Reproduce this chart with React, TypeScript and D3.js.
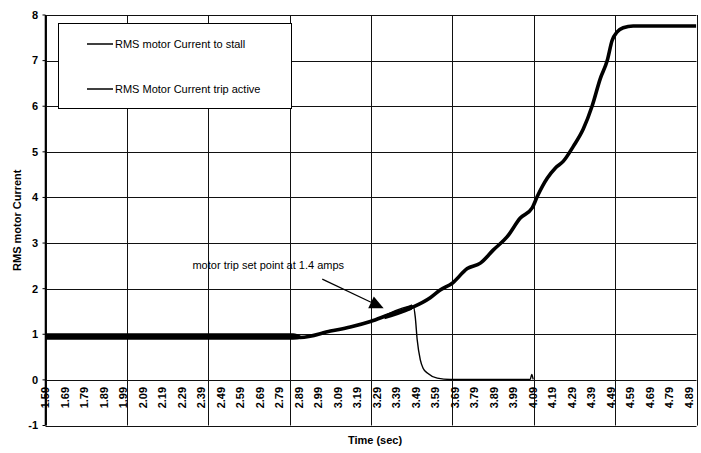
import React from 'react'
import * as d3 from 'd3'

// time (sec) and RMS current
const stallTime = [1.59, 2.3, 2.795, 2.898, 3.052, 3.154, 3.257, 3.359, 3.477, 3.564, 3.615, 3.677, 3.754, 3.821, 3.888, 3.959, 4.026, 4.087, 4.113, 4.164, 4.205, 4.246, 4.298, 4.349, 4.395, 4.436, 4.472, 4.497, 4.523, 4.554, 4.605, 4.7, 4.8, 4.928]
const stallCurrent = [0.95, 0.95, 0.95, 0.93, 1.07, 1.16, 1.28, 1.44, 1.6, 1.8, 1.97, 2.12, 2.44, 2.56, 2.85, 3.14, 3.55, 3.77, 4.02, 4.42, 4.64, 4.79, 5.12, 5.5, 6.01, 6.6, 7.0, 7.44, 7.63, 7.72, 7.76, 7.76, 7.76, 7.76]

const tripTime = [1.59, 2.795, 2.898, 3.052, 3.257, 3.477, 3.487, 3.497, 3.513, 3.528, 3.549, 3.6, 3.667, 4.077, 4.085, 4.092]
const tripCurrent = [0.95, 0.95, 0.93, 1.07, 1.28, 1.62, 1.38, 0.88, 0.44, 0.25, 0.15, 0.04, 0.01, 0.01, 0.12, 0.01]

// ripple envelopes where the trace gets thick
const rippleTime = [1.59, 2.86, 2.9]
const rippleLow = [0.88, 0.88, 0.9]
const rippleHigh = [1.02, 1.02, 0.97]
const ripple2Time = [3.33, 3.4, 3.47]
const ripple2Low = [1.33, 1.42, 1.54]
const ripple2High = [1.39, 1.52, 1.66]

const xLabels = ['1.59', '1.69', '1.79', '1.89', '1.99', '2.09', '2.19', '2.29', '2.39', '2.49', '2.59', '2.69', '2.79', '2.89', '2.99', '3.09', '3.19', '3.29', '3.39', '3.49', '3.59', '3.69', '3.79', '3.89', '3.99', '4.09', '4.19', '4.29', '4.39', '4.49', '4.59', '4.69', '4.79', '4.89']
const gridTimes = [1.59, 2.0075, 2.425, 2.8425, 3.26, 3.6775, 4.095, 4.5125, 4.93]
const yTicks = [-1, 0, 1, 2, 3, 4, 5, 6, 7, 8]

const legendNames = ['RMS motor Current to stall', 'RMS Motor Current trip active']

const font = 'Arial, "Liberation Sans", Helvetica, sans-serif'

export default function App() {
  const width = 701
  const height = 453
  const left = 45.5
  const right = 696.5
  const top = 15
  const bottom = 425.5

  const x = d3.scaleLinear().domain([1.59, 4.93]).range([left, right])
  const y = d3.scaleLinear().domain([-1, 8]).range([bottom, top])

  const line = d3.line<[number, number]>()
    .x(d => x(d[0]))
    .y(d => y(d[1]))
    .curve(d3.curveMonotoneX)

  const band = d3.area<[number, number, number]>()
    .x(d => x(d[0]))
    .y0(d => y(d[1]))
    .y1(d => y(d[2]))
    .curve(d3.curveMonotoneX)

  const stallPts = stallTime.map((t, i) => [t, stallCurrent[i]] as [number, number])
  const tripPts = tripTime.map((t, i) => [t, tripCurrent[i]] as [number, number])
  const r1 = rippleTime.map((t, i) => [t, rippleLow[i], rippleHigh[i]] as [number, number, number])
  const r2 = ripple2Time.map((t, i) => [t, ripple2Low[i], ripple2High[i]] as [number, number, number])

  // annotation, in data units
  const arrowFrom = { t: 3.01, v: 2.21 }
  const arrowTo = { t: 3.325, v: 1.57 }
  const ax1 = x(arrowFrom.t), ay1 = y(arrowFrom.v)
  const ax2 = x(arrowTo.t), ay2 = y(arrowTo.v)
  const ang = Math.atan2(ay2 - ay1, ax2 - ax1)
  const headLen = 14
  const headW = 6.5
  const bx = ax2 - headLen * Math.cos(ang)
  const by = ay2 - headLen * Math.sin(ang)
  const head = [
    [ax2, ay2],
    [bx + headW * Math.sin(ang), by - headW * Math.cos(ang)],
    [bx - headW * Math.sin(ang), by + headW * Math.cos(ang)]
  ].map(p => p.join(',')).join(' ')

  return (
    <svg width={width} height={height} style={{ position: 'absolute', left: 0, top: 0, background: '#fff' }}>
      <rect x={0} y={0} width={width} height={height} fill="#fff" />

      {/* gridlines */}
      {yTicks.map(v => (
        <line key={'h' + v} x1={left} x2={right} y1={Math.round(y(v)) + 0.5} y2={Math.round(y(v)) + 0.5} stroke="#111" strokeWidth={1} />
      ))}
      {gridTimes.map(t => (
        <line key={'v' + t} x1={Math.round(x(t)) + 0.5} x2={Math.round(x(t)) + 0.5} y1={top} y2={bottom} stroke="#111" strokeWidth={1} />
      ))}
      <line x1={left} x2={left} y1={top} y2={bottom} stroke="#000" strokeWidth={1.6} />

      {/* y ticks + labels */}
      {yTicks.map(v => (
        <g key={'yt' + v}>
          <line x1={left - 3} x2={left} y1={y(v)} y2={y(v)} stroke="#000" />
          <text x={38} y={y(v)} dy="0.35em" textAnchor="end" fontFamily={font} fontWeight="bold" fontSize={11}>{v}</text>
        </g>
      ))}

      {/* x labels */}
      {xLabels.map(l => (
        <text key={'xl' + l} transform={`translate(${x(parseFloat(l))},${y(0) + 7}) rotate(-90)`} dy="0.35em" textAnchor="end"
          fontFamily={font} fontWeight="bold" fontSize={11}>{l}</text>
      ))}

      {/* series */}
      <path d={band(r1) || ''} fill="#000" />
      <path d={band(r2) || ''} fill="#000" />
      <path d={line(tripPts) || ''} fill="none" stroke="#000" strokeWidth={1.4} />
      <path d={line(stallPts) || ''} fill="none" stroke="#000" strokeWidth={3.6} strokeLinejoin="round" />

      {/* annotation */}
      <text x={x(2.344)} y={y(2.43)} fontFamily={font} fontSize={11}>motor trip set point at 1.4 amps</text>
      <line x1={ax1} y1={ay1} x2={bx} y2={by} stroke="#000" strokeWidth={1.2} />
      <polygon points={head} fill="#000" />

      {/* legend */}
      <rect x={58.5} y={23.5} width={233} height={85} fill="#fff" stroke="#000" strokeWidth={1} />
      {legendNames.map((n, i) => (
        <g key={n}>
          <line x1={87} x2={113} y1={44 + i * 45} y2={44 + i * 45} stroke="#000" strokeWidth={1.5} />
          <text x={115} y={44 + i * 45} dy="0.35em" fontFamily={font} fontSize={11}>{n}</text>
        </g>
      ))}

      {/* axis titles */}
      <text transform={`translate(17,${(top + bottom) / 2}) rotate(-90)`} textAnchor="middle" dy="0.35em"
        fontFamily={font} fontWeight="bold" fontSize={11}>RMS motor Current</text>
      <text x={(left + right) / 2 + 4} y={444} textAnchor="middle" fontFamily={font} fontWeight="bold" fontSize={11}>Time (sec)</text>
    </svg>
  )
}
